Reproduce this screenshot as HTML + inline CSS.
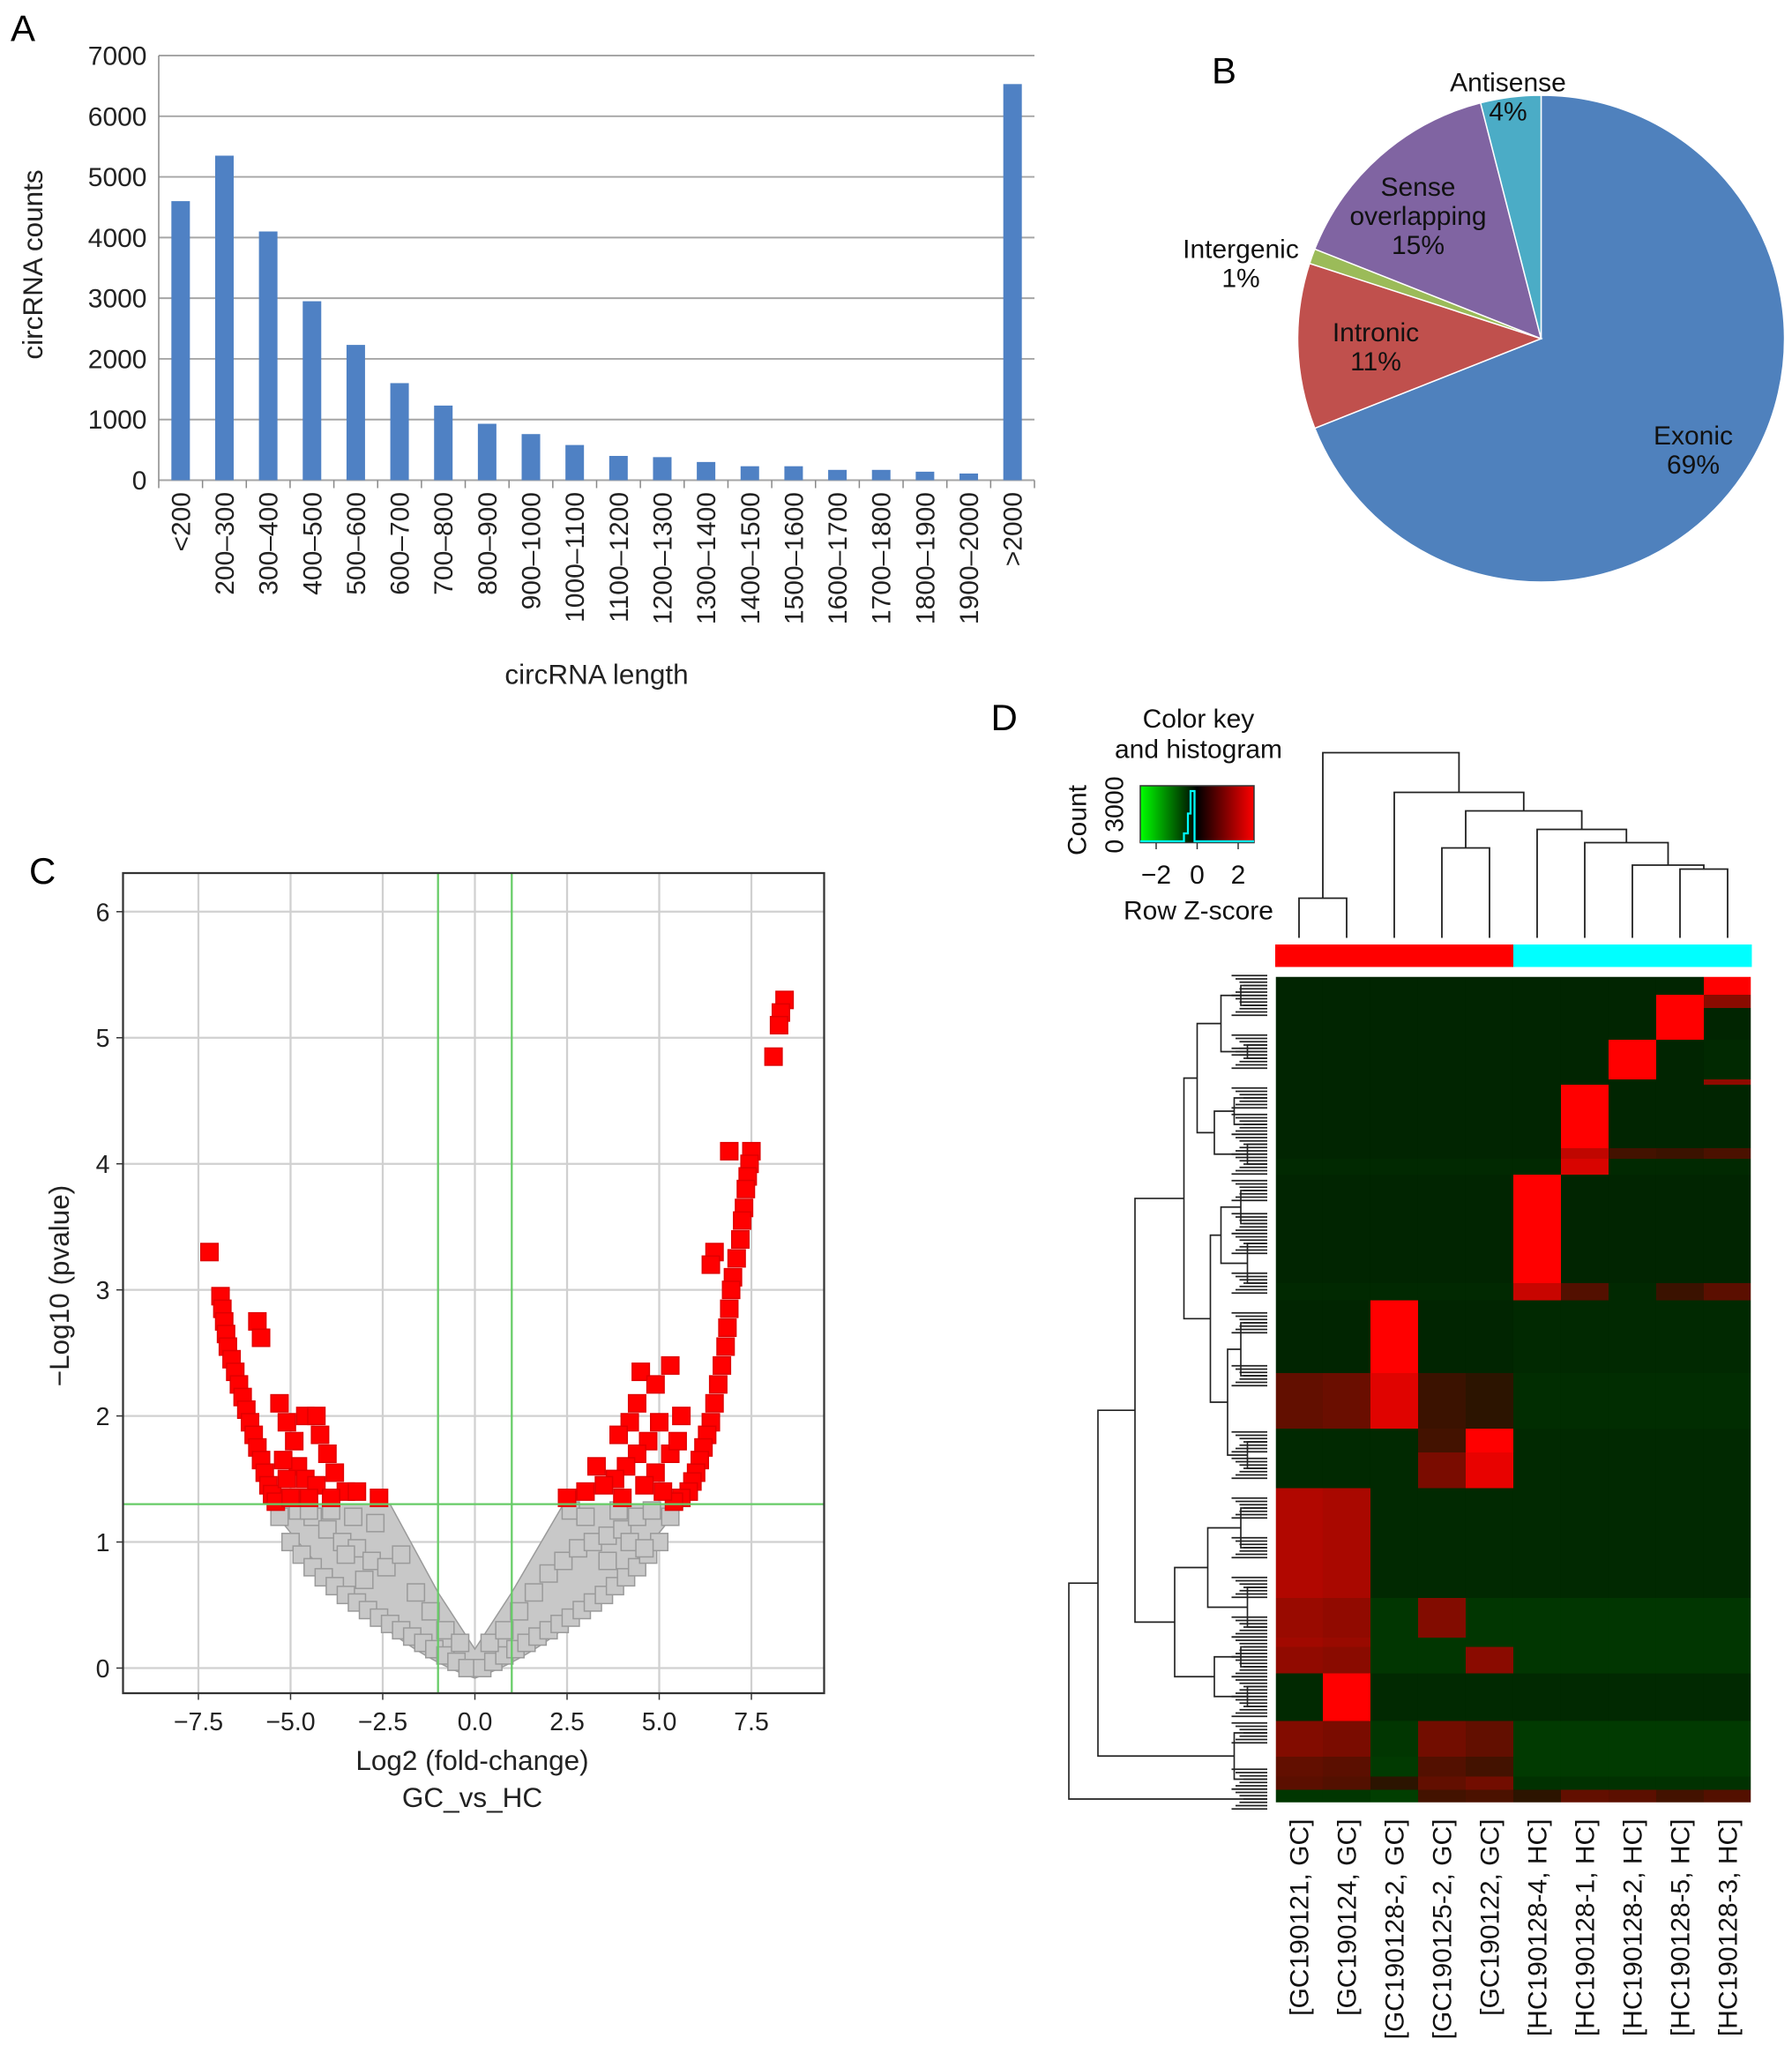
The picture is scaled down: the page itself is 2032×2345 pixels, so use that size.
<!DOCTYPE html>
<html><head><meta charset="utf-8"><style>
html,body{margin:0;padding:0;background:#fff}
svg{display:block;font-family:"Liberation Sans",Arial,sans-serif}
</style></head><body>
<svg id="root" width="2032" height="2345" viewBox="0 0 1354.67 1563.33" xmlns="http://www.w3.org/2000/svg">
<g id="pA"></g>
<g id="pB"></g>
<g id="pC"></g>
<g id="pD"></g>
</svg>
<script>
// ---------- Panel A data ----------
const lenCategories = ["<200","200–300","300–400","400–500","500–600","600–700","700–800","800–900","900–1000","1000–1100","1100–1200","1200–1300","1300–1400","1400–1500","1500–1600","1600–1700","1700–1800","1800–1900","1900–2000",">2000"];
const lenCounts = [4600,5350,4100,2950,2230,1600,1230,930,760,580,400,380,300,230,230,170,170,140,110,6530];
const countTicks = [0,1000,2000,3000,4000,5000,6000,7000];
// ---------- Panel B data ----------
const pieLabels = ["Exonic","Intronic","Intergenic","Sense overlapping","Antisense"];
const pieValues = [69,11,1,15,4];
// ---------- Panel C data ----------
const volXTicks = [-7.5,-5.0,-2.5,0.0,2.5,5.0,7.5];
const volYTicks = [0,1,2,3,4,5,6];
const redX = [-7.2,-6.9,-6.85,-6.8,-6.75,-6.7,-6.6,-6.5,-6.4,-6.3,-6.2,-6.1,-6.0,-5.9,-5.8,-5.7,-5.6,-5.5,-5.4,-5.9,-5.8,-5.3,-5.1,-4.6,-4.3,-4.9,-4.8,-4.6,-4.3,-5.1,-5.0,-4.5,-3.8,-3.5,-3.2,-2.6,-3.9,-4.2,-4.0,-5.2,
 8.4,8.3,8.25,8.1,7.5,7.45,7.4,7.35,7.3,7.25,7.2,7.1,7.0,6.95,6.9,6.85,6.8,6.7,6.6,6.5,6.4,6.3,6.2,6.1,6.0,5.9,5.8,5.6,5.4,6.9,6.5,6.4,5.3,4.5,4.9,4.4,4.2,3.9,5.0,4.7,4.4,4.1,3.8,3.5,3.0,2.5,5.3,4.9,4.6,4.0,5.1,3.3,5.6,5.5];
const redY = [3.3,2.95,2.85,2.75,2.65,2.55,2.45,2.35,2.25,2.15,2.05,1.95,1.85,1.75,1.65,1.55,1.45,1.38,1.32,2.75,2.62,2.1,1.95,2.0,2.0,1.8,1.6,1.5,1.45,1.5,1.35,1.35,1.55,1.4,1.4,1.35,1.35,1.85,1.7,1.65,
 5.3,5.2,5.1,4.85,4.1,4.0,3.9,3.8,3.65,3.55,3.4,3.25,3.1,3.0,2.85,2.7,2.55,2.4,2.25,2.1,1.95,1.85,1.75,1.65,1.55,1.48,1.4,1.35,1.32,4.1,3.3,3.2,2.4,2.35,2.25,2.1,1.95,1.85,1.95,1.8,1.7,1.6,1.5,1.45,1.4,1.35,1.7,1.55,1.45,1.35,1.4,1.6,2.0,1.8];
const grayX = [-5.3,-5.0,-4.7,-4.4,-4.1,-3.8,-3.5,-3.2,-2.9,-2.6,-2.3,-2.0,-1.7,-1.4,-1.1,-0.8,-0.5,-0.2,0.2,0.5,0.8,1.1,1.4,1.7,2.0,2.3,2.6,2.9,3.2,3.5,3.8,4.1,4.4,4.7,5.0,5.3,
 -4.8,-4.4,-4.0,-3.6,-3.2,-2.8,-2.4,-2.0,-1.6,-1.2,-0.8,-0.4,0.4,0.8,1.2,1.6,2.0,2.4,2.8,3.2,3.6,4.0,4.4,4.8,
 -4.5,-3.9,-3.3,-2.7,-3.5,-3.0,2.6,3.0,3.6,4.2,4.6,3.9];
const grayY = [1.2,1.0,0.9,0.8,0.72,0.65,0.58,0.52,0.46,0.4,0.35,0.3,0.25,0.2,0.15,0.1,0.05,0.0,0.0,0.05,0.1,0.15,0.2,0.25,0.3,0.35,0.4,0.46,0.52,0.58,0.65,0.72,0.8,0.9,1.0,1.2,
 1.25,1.2,1.1,1.0,0.95,0.85,0.8,0.9,0.6,0.45,0.3,0.2,0.2,0.3,0.45,0.6,0.75,0.85,0.95,1.0,1.05,1.1,1.2,1.25,
 1.25,1.25,1.2,1.15,0.9,0.7,1.25,1.2,0.85,1.0,0.95,1.25];
// ---------- Panel D data ----------
const sampleLabels = ["[GC190121, GC]","[GC190124, GC]","[GC190128-2, GC]","[GC190125-2, GC]","[GC190122, GC]","[HC190128-4, HC]","[HC190128-1, HC]","[HC190128-2, HC]","[HC190128-5, HC]","[HC190128-3, HC]"];
const sampleGroup = ["GC","GC","GC","GC","GC","HC","HC","HC","HC","HC"];
const rowSegStart = [0,14,24,48,78,82,130,138,150,232,245,300,342,360,387,470,500,507,527,563,590,605,615];
const rowSegEnd   = [14,24,48,78,82,130,138,150,232,245,300,342,360,387,470,500,507,527,563,590,605,615,625];
const rowSegZ = [
 [-.5,-.5,-.5,-.5,-.5,-.5,-.5,-.5,-.5,3],
 [-.5,-.5,-.5,-.5,-.5,-.5,-.5,-.5,3,1.5],
 [-.5,-.5,-.5,-.5,-.5,-.5,-.5,-.5,3,-.5],
 [-.5,-.5,-.5,-.5,-.5,-.5,-.5,3,-.5,-.6],
 [-.5,-.5,-.5,-.5,-.5,-.5,-.5,-.5,-.5,1.6],
 [-.5,-.5,-.5,-.5,-.5,-.5,3,-.5,-.5,-.5],
 [-.5,-.5,-.5,-.5,-.5,-.5,2.2,.6,.5,.7],
 [-.6,-.6,-.6,-.6,-.6,-.6,2.5,-.6,-.6,-.6],
 [-.5,-.5,-.5,-.5,-.5,3,-.5,-.5,-.5,-.5],
 [-.6,-.6,-.6,-.6,-.6,2.3,.8,-.6,.5,.9],
 [-.5,-.5,3,-.5,-.5,-.6,-.6,-.6,-.6,-.6],
 [1.0,1.1,2.6,.5,.3,-.7,-.7,-.7,-.7,-.7],
 [-.6,-.6,-.6,.6,3,-.6,-.6,-.6,-.6,-.6],
 [-.6,-.6,-.6,1.3,2.7,-.6,-.6,-.6,-.6,-.6],
 [2.0,1.9,-.6,-.6,-.6,-.6,-.6,-.6,-.6,-.6],
 [1.7,1.6,-.9,1.4,-.9,-.9,-.9,-.9,-.9,-.9],
 [1.8,1.7,-.9,-.9,-.9,-.9,-.9,-.9,-.9,-.9],
 [1.6,1.5,-.9,-.9,1.5,-.9,-.9,-.9,-.9,-.9],
 [-.6,3,-.6,-.6,-.6,-.6,-.6,-.6,-.6,-.6],
 [1.4,1.3,-.9,1.2,1.0,-1.0,-1.0,-1.0,-1.0,-1.0],
 [1.0,.9,-1.0,.8,.6,-1.0,-1.0,-1.0,-1.0,-1.0],
 [.9,.8,.3,1.0,1.2,-.8,-.8,-.8,-.8,-.8],
 [-.9,-.9,-1.1,.6,.7,.3,1.0,.9,.6,.8]];
const colKeyTicks = [-2,0,2];

const NS="http://www.w3.org/2000/svg";
function mk(parent,tag,attrs,txt){const e=document.createElementNS(NS,tag);for(const k in attrs)e.setAttribute(k,attrs[k]);if(txt!==undefined)e.textContent=txt;parent.appendChild(e);return e;}

// ================= Panel A =================
(function(){
 const g=document.getElementById('pA');
 const x0=120,x1=782,yb=363,yt=42,ymax=7000;
 const ys=v=>yb-(v/ymax)*(yb-yt);
 const bw=(x1-x0)/lenCategories.length;
 let t=mk(g,'text',{x:8,y:31,'font-size':28},'A');
 
 
 countTicks.forEach(v=>{
  const l=mk(g,'line',{x1:x0,x2:x1,y1:ys(v),y2:ys(v),stroke:'#a6a6a6','stroke-width':1.3});
  
  
  const tx=mk(g,'text',{x:111,y:ys(v)+7,'font-size':20,'text-anchor':'end',fill:'#222'},String(v));
  
  
 });
 mk(g,'line',{x1:x0,x2:x0,y1:yt,y2:yb,stroke:'#888','stroke-width':1});
 lenCategories.forEach((c,i)=>{
  const cx=x0+bw*(i+0.5);
  const r=mk(g,'rect',{x:cx-7,y:ys(lenCounts[i]),width:14,height:yb-ys(lenCounts[i]),fill:'#4f81c4'});
  
  
  mk(g,'line',{x1:x0+bw*i,x2:x0+bw*i,y1:yb,y2:yb+6,stroke:'#888'});
  const tx=mk(g,'text',{transform:`translate(${cx+7},372) rotate(-90)`,'font-size':20,'text-anchor':'end',fill:'#222'},c);
  
  
 });
 mk(g,'line',{x1:x1,x2:x1,y1:yb,y2:yb+6,stroke:'#888'});
 t=mk(g,'text',{transform:'translate(32,200) rotate(-90)','font-size':21,'text-anchor':'middle',fill:'#222'},'circRNA counts');
 
 
 t=mk(g,'text',{x:451,y:517,'font-size':21,'text-anchor':'middle',fill:'#222'},'circRNA length');
 
 
})();

// ================= Panel B =================
(function(){
 const g=document.getElementById('pB');
 const cx=1165,cy=256,r=184;
 const cols=['#4f81bd','#c0504d','#9bbb59','#8064a2','#4bacc6'];
 let t=mk(g,'text',{x:916,y:63,'font-size':28},'B');
 
 
 const tot=pieValues.reduce((a,b)=>a+b,0);
 let a=0;
 const pt=ang=>[cx+r*Math.sin(ang),cy-r*Math.cos(ang)];
 pieValues.forEach((v,i)=>{
  const a2=a+v/tot*2*Math.PI;
  const [xa,ya]=pt(a),[xb,yb]=pt(a2);
  const p=mk(g,'path',{d:`M${cx},${cy}L${xa},${ya}A${r},${r} 0 ${a2-a>Math.PI?1:0} 1 ${xb},${yb}Z`,fill:cols[i],stroke:'#fff','stroke-width':1});
  
  
  a=a2;
 });
 const labs=[[1280,336,['Exonic','69%']],[1040,258,['Intronic','11%']],[938,195,['Intergenic','1%']],[1072,148,['Sense','overlapping','15%']],[1140,69,['Antisense','4%']]];
 labs.forEach((L,i)=>{
  L[2].forEach((s,j)=>{
   const tx=mk(g,'text',{x:L[0],y:L[1]+j*22,'font-size':20,'text-anchor':'middle',fill:'#111'},s);
   
   
  });
 });
})();

// ================= Panel C =================
(function(){
 const g=document.getElementById('pC');
 const L=93,R=623,T=660,B=1280;
 const xs=v=>359+v*27.87, ys=v=>1261-v*95.3;
 let t=mk(g,'text',{x:22,y:668,'font-size':28},'C');
 
 
 volXTicks.forEach(v=>{
  mk(g,'line',{x1:xs(v),x2:xs(v),y1:T,y2:B,stroke:'#d0d0d0','stroke-width':1.5});
  mk(g,'line',{x1:xs(v),x2:xs(v),y1:B,y2:B+5,stroke:'#333'});
  const tx=mk(g,'text',{x:xs(v),y:1308,'font-size':19,'text-anchor':'middle',fill:'#222'},(v<0?'−':'')+Math.abs(v).toFixed(1));
  
  
 });
 volYTicks.forEach(v=>{
  mk(g,'line',{x1:L,x2:R,y1:ys(v),y2:ys(v),stroke:'#d0d0d0','stroke-width':1.5});
  mk(g,'line',{x1:L-5,x2:L,y1:ys(v),y2:ys(v),stroke:'#333'});
  const tx=mk(g,'text',{x:L-10,y:ys(v)+7,'font-size':19,'text-anchor':'end',fill:'#222'},String(v));
  
  
 });
 const vfill=mk(g,'path',{d:`M${xs(-5.6)},${ys(1.3)} L${xs(-2.3)},${ys(1.3)} L${xs(-1)},${ys(0.6)} L${xs(0)},${ys(0.15)} L${xs(1)},${ys(0.6)} L${xs(2.4)},${ys(1.3)} L${xs(5.6)},${ys(1.3)} Q${xs(2.8)},${ys(0.2)} ${xs(0)},${ys(-0.08)} Q${xs(-2.8)},${ys(0.2)} ${xs(-5.6)},${ys(1.3)}Z`,fill:'#c8c8c8',stroke:'#9a9a9a','stroke-width':1});
 
 
 const s=13;
 grayX.forEach((x,i)=>{
  const r=mk(g,'rect',{x:xs(x)-s/2,y:ys(grayY[i])-s/2,width:s,height:s,fill:'#c8c8c8',stroke:'#9a9a9a','stroke-width':1});
  
  
 });
 redX.forEach((x,i)=>{
  const r=mk(g,'rect',{x:xs(x)-s/2,y:ys(redY[i])-s/2,width:s,height:s,fill:'#ff0000',stroke:'#e00000','stroke-width':1});
  
  
 });
 [[xs(-1),T,xs(-1),B],[xs(1),T,xs(1),B],[L,ys(1.3),R,ys(1.3)]].forEach(c=>{
  const l=mk(g,'line',{x1:c[0],y1:c[1],x2:c[2],y2:c[3],stroke:'#66cc66','stroke-width':1.5});
  
  
 });
 mk(g,'rect',{x:L,y:T,width:R-L,height:B-T,fill:'none',stroke:'#333','stroke-width':1.5});
 t=mk(g,'text',{x:357,y:1338,'font-size':21,'text-anchor':'middle',fill:'#222'},'Log2 (fold-change)');
 
 
 t=mk(g,'text',{x:357,y:1366,'font-size':21,'text-anchor':'middle',fill:'#222'},'GC_vs_HC');
 
 
 t=mk(g,'text',{transform:'translate(52,972) rotate(-90)','font-size':21,'text-anchor':'middle',fill:'#222'},'−Log10 (pvalue)');
 
 
})();

// ================= Panel D =================
(function(){
 const g=document.getElementById('pD');
 const HL=964,HR=1324,HT=738,HB=1363;
 const cw=(HR-HL)/sampleLabels.length, rs=(HB-HT)/625;
 let t=mk(g,'text',{x:749,y:552,'font-size':28},'D');
 
 
 const col=z=>{z=Math.max(-3,Math.min(3,z));if(z>=0){return `rgb(${Math.round(20+235*z/3)},${Math.round(22*(1-z/3))},0)`;}const f=-z/3;return `rgb(${Math.round(4*f)},${Math.round(16+125*f)},${Math.round(4*f)})`;};
 rowSegStart.forEach((s0,i)=>{
  rowSegZ[i].forEach((z,j)=>{
   const r=mk(g,'rect',{x:HL+j*cw,y:HT+s0*rs,width:cw+0.3,height:(rowSegEnd[i]-s0)*rs+0.3,fill:col(z)});
   
   
  });
 });
 mk(g,'rect',{x:HL,y:HT,width:HR-HL,height:HB-HT,fill:'none',stroke:'#fff','stroke-width':1});
 sampleGroup.forEach((gr,j)=>{
  const r=mk(g,'rect',{x:HL+j*cw,y:714,width:cw+0.3,height:17,fill:gr==='GC'?'#ff0000':'#00ffff'});
  
  
 });
 sampleLabels.forEach((s,j)=>{
  const tx=mk(g,'text',{transform:`translate(${HL+j*cw+cw/2+7},1375) rotate(-90)`,'font-size':20,'text-anchor':'end',fill:'#111'},s);
  
  
 });
 const colTree=[140,[30,0,1],[110,2,[96,[68,3,4],[82,5,[72,6,[55,7,[52,8,9]]]]]]];
 const cg=mk(g,'g',{stroke:'#222','stroke-width':1.2,fill:'none'});
 
 
 function drawC(n){ if(typeof n==='number') return [HL+n*cw+cw/2,709];
  const a=drawC(n[1]),b=drawC(n[2]),y=709-n[0];
  mk(cg,'path',{d:`M${a[0]},${a[1]}V${y}H${b[0]}V${b[1]}`}); return [(a[0]+b[0])/2,y];}
 drawC(colTree);
 const rowTree=[150,[128,[100,[63,[53,[35,[20,745,760],[15,790,800]],[40,[25,830,850],[15,865,880]]],[43,[35,[20,900,925],[15,940,970]],[30,[20,1000,1040],[15,1090,1110]]]],[70,[45,[20,1140,1170],[15,1200,1230]],[40,[20,1245,1260],[15,1275,1290]]]],[25,1310,1345]],1360];
 const rg=mk(g,'g',{stroke:'#222','stroke-width':1.1,fill:'none'});
 
 
 function drawR(n){ if(typeof n==='number'){ for(let k=-3;k<=3;k++){mk(rg,'line',{x1:958,x2:940-Math.abs(k)*3,y1:n+k*2.5,y2:n+k*2.5});} return [958,n];}
  const a=drawR(n[1]),b=drawR(n[2]),x=958-n[0];
  mk(rg,'path',{d:`M${a[0]},${a[1]}H${x}V${b[1]}H${b[0]}`}); return [x,(a[1]+b[1])/2];}
 drawR(rowTree);
 const defs=mk(g,'defs',{});
 const lg=mk(defs,'linearGradient',{id:'ck',x1:0,x2:1,y1:0,y2:0});
 mk(lg,'stop',{offset:'0','stop-color':'#00ff00'});
 mk(lg,'stop',{offset:'0.5','stop-color':'#000'});
 mk(lg,'stop',{offset:'1','stop-color':'#ff0000'});
 const kr=mk(g,'rect',{x:862,y:594,width:86,height:43,fill:'url(#ck)',stroke:'#333','stroke-width':1});
 
 
 const hp=mk(g,'path',{d:'M862,636H895V630H898V615H900V598H903V636H948',stroke:'#00ffff','stroke-width':1.5,fill:'none'});
 
 
 colKeyTicks.forEach(v=>{
  const x=905+v*15.5;
  mk(g,'line',{x1:x,x2:x,y1:637,y2:642,stroke:'#333'});
  const tx=mk(g,'text',{x:x,y:668,'font-size':20,'text-anchor':'middle',fill:'#111'},(v<0?'−':'')+Math.abs(v));
  
  
 });
 [['Color key',906,550],['and histogram',906,573],['Row Z-score',906,695]].forEach(a=>{
  const tx=mk(g,'text',{x:a[1],y:a[2],'font-size':20,'text-anchor':'middle',fill:'#111'},a[0]);
  
  
 });
 t=mk(g,'text',{transform:'translate(821,620) rotate(-90)','font-size':20,'text-anchor':'middle',fill:'#111'},'Count');
 
 
 t=mk(g,'text',{transform:'translate(849,616) rotate(-90)','font-size':19,'text-anchor':'middle',fill:'#111'},'0 3000');
 
 
})();
</script>
</body></html>
